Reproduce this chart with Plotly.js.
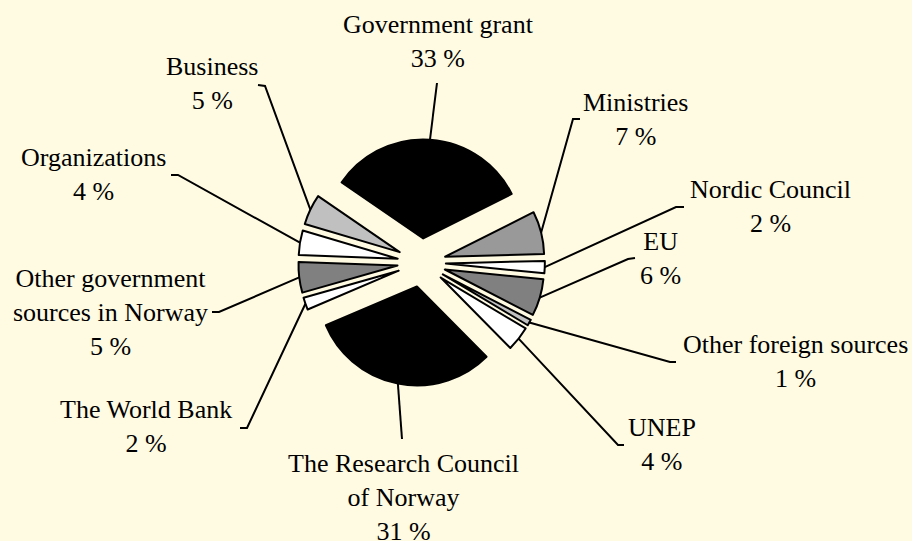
<!DOCTYPE html>
<html>
<head>
<meta charset="utf-8">
<script src="https://cdn.plot.ly/plotly-3.0.1.min.js"></script>
<style>
  html, body { margin: 0; padding: 0; background: #FFFBE3; }
  #graph { width: 912px; height: 541px; }
</style>
</head>
<body>
<div id="graph"></div>
<script>
// funding sources, clockwise from the top
var sources = ['Government grant', 'Ministries', 'Nordic Council', 'EU',
    'Other foreign sources', 'UNEP', 'The Research Council of Norway',
    'The World Bank', 'Other government sources in Norway', 'Organizations', 'Business'];
var shares = [33, 7, 2, 6, 1, 4, 31, 2, 5, 4, 5];
var labelText = ['Government grant', 'Ministries', 'Nordic Council', 'EU',
    'Other foreign sources', 'UNEP', 'The Research Council<br>of Norway',
    'The World Bank', 'Other government<br>sources in Norway', 'Organizations', 'Business'];
var sliceColors = ['#000000', '#999999', '#ffffff', '#808080', '#c0c0c0', '#ffffff',
    '#000000', '#ffffff', '#808080', '#ffffff', '#c0c0c0'];

// label placement (pixels): text centre, leader elbow, hook end (null = no hook)
var labelPos = [[438, 42], [635, 119], [770, 207], [660, 258], [795, 361], [662, 444],
    [403, 497], [146, 426], [110, 312], [93, 174], [212, 84]];
var elbows = [[437, 83], [573, 119], [676, 207], [628, 259], [670, 362], [618, 445],
    [402, 439], [247, 428], [219, 312], [178, 175], [265, 86]];
var hooks = [null, [580, 119], [684, 207], [635, 258], [676, 362], [624, 445],
    null, [240, 428], [212, 312], [171, 175], [258, 85]];

var W = 912, H = 541;
var cx = 421.6, cy = 262.6, r = 99, pull = 0.245, rotation = -55.5;

var half = r * (1 + pull);
var domY0 = 1 - (cy + half) / H;
var domY1 = domY0 + 2 * half / H;
var domX0 = cx / W - 0.2, domX1 = cx / W + 0.2;

function px(x) { return x / W; }
function py(y) { return 1 - y / H; }

var total = shares.reduce(function (a, b) { return a + b; }, 0);
var shapes = [];
var annotations = [];
var cum = 0;
shares.forEach(function (v, i) {
    var mid = (rotation + (cum + v / 2) / total * 360) * Math.PI / 180;
    cum += v;
    var tx = cx + half * Math.sin(mid);
    var ty = cy - half * Math.cos(mid);
    var path = 'M ' + px(tx) + ' ' + py(ty) + ' L ' + px(elbows[i][0]) + ' ' + py(elbows[i][1]);
    if (hooks[i]) path += ' L ' + px(hooks[i][0]) + ' ' + py(hooks[i][1]);
    shapes.push({
        type: 'path', xref: 'paper', yref: 'paper', path: path,
        line: {color: 'black', width: 2}
    });
    annotations.push({
        xref: 'paper', yref: 'paper',
        x: px(labelPos[i][0]), y: py(labelPos[i][1]),
        xanchor: 'center', yanchor: 'middle',
        text: labelText[i] + '<br>' + v + ' %',
        showarrow: false,
        font: {family: 'Liberation Serif, serif', size: 26, color: 'black'}
    });
});

var data = [{
    type: 'pie',
    labels: sources,
    values: shares,
    sort: false,
    direction: 'clockwise',
    rotation: rotation,
    pull: pull,
    textinfo: 'none',
    hoverinfo: 'label+percent',
    domain: {x: [domX0, domX1], y: [domY0, domY1]},
    marker: {colors: sliceColors, line: {color: 'black', width: 2}}
}];

var layout = {
    width: W,
    height: H,
    margin: {l: 0, r: 0, t: 0, b: 0},
    paper_bgcolor: '#FFFBE3',
    showlegend: false,
    shapes: shapes,
    annotations: annotations
};

Plotly.newPlot('graph', data, layout, {displayModeBar: false, staticPlot: true});
</script>
</body>
</html>
